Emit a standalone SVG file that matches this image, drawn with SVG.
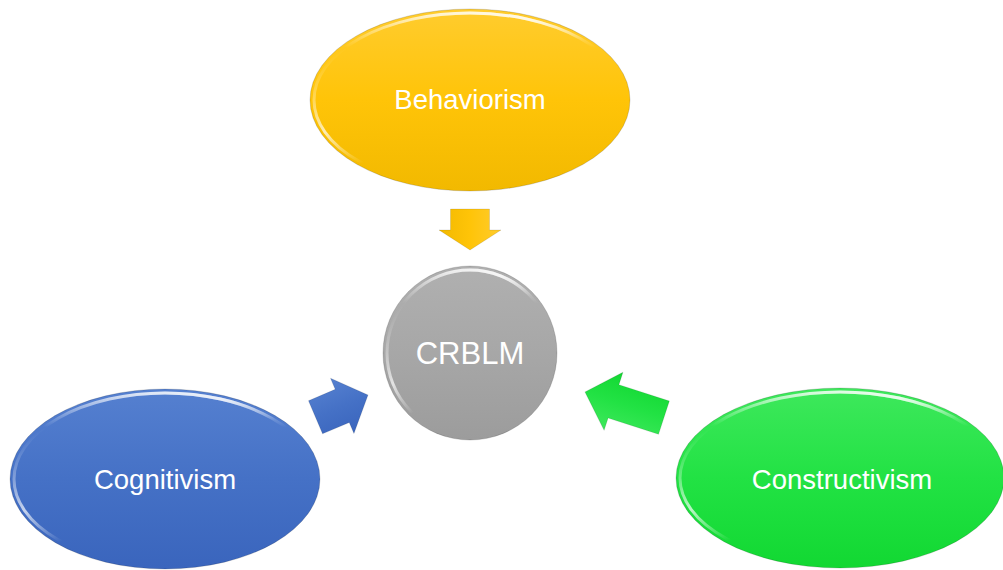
<svg xmlns="http://www.w3.org/2000/svg" width="1003" height="570" viewBox="0 0 1003 570">
<defs>
<linearGradient id="gY" x1="0" y1="0" x2="0" y2="1"><stop offset="0" stop-color="#ffcc2e"/><stop offset="0.5" stop-color="#ffc408"/><stop offset="1" stop-color="#f2b900"/></linearGradient>
<linearGradient id="gB" x1="0" y1="0" x2="0" y2="1"><stop offset="0" stop-color="#5580d0"/><stop offset="0.5" stop-color="#4571c6"/><stop offset="1" stop-color="#3a65bd"/></linearGradient>
<linearGradient id="gG" x1="0" y1="0" x2="0" y2="1"><stop offset="0" stop-color="#3ee85c"/><stop offset="0.5" stop-color="#22e244"/><stop offset="1" stop-color="#12d832"/></linearGradient>
<linearGradient id="gC" x1="0" y1="0" x2="0" y2="1"><stop offset="0" stop-color="#b0b0b0"/><stop offset="0.5" stop-color="#a7a7a7"/><stop offset="1" stop-color="#9c9c9c"/></linearGradient>
<linearGradient id="hiTop" x1="0" y1="0" x2="0" y2="1"><stop offset="0" stop-color="#fff" stop-opacity="0.75"/><stop offset="0.2" stop-color="#fff" stop-opacity="0"/><stop offset="1" stop-color="#fff" stop-opacity="0"/></linearGradient>
<linearGradient id="hiL" x1="0" y1="0.3" x2="0.6" y2="0.9"><stop offset="0" stop-color="#fff" stop-opacity="0"/><stop offset="0.35" stop-color="#fff" stop-opacity="0.7"/><stop offset="0.6" stop-color="#fff" stop-opacity="0"/></linearGradient>
<clipPath id="leftHalf"><rect x="0" y="0" width="1003" height="570"/></clipPath>
</defs>
<style>
.edge{fill:none;stroke:#000;stroke-opacity:0.15;stroke-width:1}
.rim{fill:none;stroke:url(#hiTop);stroke-width:3}
.rimL{fill:none;stroke:url(#hiL);stroke-width:3}
.lbl{font-family:"Liberation Sans",Arial,sans-serif;font-size:27.5px;fill:#fff;text-anchor:middle}
.arr{stroke:#000;stroke-opacity:0.1;stroke-width:1;stroke-linejoin:round}
</style>
<rect width="1003" height="570" fill="#fff"/>
<g id="connectors">
<polygon class="arr" fill="url(#gY)" points="0,0 -20,-31 -20,-19.5 -41,-19.5 -41,19.5 -20,19.5 -20,31" transform="translate(470,250) rotate(90)"/>
<polygon class="arr" fill="url(#gB)" points="0,0 -28,-30 -28,-18 -57,-18 -57,18 -28,18 -28,30" transform="translate(368,395) rotate(-23)"/>
<polygon class="arr" fill="url(#gG)" points="0,0 -30,-30.5 -30,-17.5 -83,-17.5 -83,17.5 -30,17.5 -30,30.5" transform="translate(585,392) rotate(198)"/>
</g>
<g id="behaviorism">
<ellipse cx="470" cy="100" rx="160" ry="91" fill="url(#gY)"/>
<ellipse cx="470" cy="100" rx="156" ry="87" class="rim"/>
<ellipse cx="470" cy="100" rx="156" ry="87" class="rimL"/>
<ellipse cx="470" cy="100" rx="160" ry="91" class="edge"/>
<text class="lbl" x="470" y="109">Behaviorism</text>
</g>
<g id="crblm">
<circle cx="470" cy="353" r="87" fill="url(#gC)"/>
<circle cx="470" cy="353" r="83" class="rim"/>
<circle cx="470" cy="353" r="83" class="rimL"/>
<circle cx="470" cy="353" r="87" class="edge"/>
<text class="lbl" x="470" y="364" style="font-size:31px">CRBLM</text>
</g>
<g id="cognitivism">
<ellipse cx="165" cy="479" rx="155" ry="90" fill="url(#gB)"/>
<ellipse cx="165" cy="479" rx="151" ry="86" class="rim"/>
<ellipse cx="165" cy="479" rx="151" ry="86" class="rimL"/>
<ellipse cx="165" cy="479" rx="155" ry="90" class="edge"/>
<text class="lbl" x="165" y="489">Cognitivism</text>
</g>
<g id="constructivism">
<ellipse cx="840" cy="478" rx="164" ry="90" fill="url(#gG)"/>
<ellipse cx="840" cy="478" rx="160" ry="86" class="rim"/>
<ellipse cx="840" cy="478" rx="160" ry="86" class="rimL"/>
<ellipse cx="840" cy="478" rx="164" ry="90" class="edge"/>
<text class="lbl" x="842" y="489">Constructivism</text>
</g>
</svg>
